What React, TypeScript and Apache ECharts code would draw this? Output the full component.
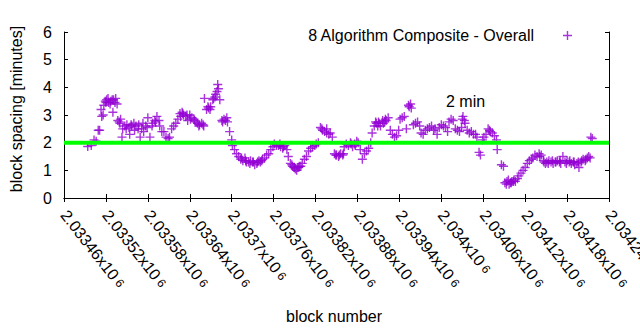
import React, { useEffect, useRef } from "react";
import * as echarts from "echarts";

// Block numbers are stored as offsets from the first x tick (2033460)
const BLOCK_BASE = 2033460;
const X_MIN = 2033460;
const X_MAX = 2034240;
const X_STEP = 60;
const Y_MIN = 0;
const Y_MAX = 6;
const TARGET_MINUTES = 2;

const blockOffsets = [
  34, 39, 43, 46, 49, 51, 53, 54, 56, 57,
  59, 61, 64, 67, 70, 71, 74, 76, 77, 79,
  80, 83, 84, 87, 90, 93, 94, 97, 100, 103,
  106, 109, 111, 114, 117, 120, 123, 126, 127, 130,
  133, 136, 137, 140, 143, 146, 149, 151, 154, 157,
  160, 163, 166, 169, 171, 174, 177, 180, 183, 186,
  189, 191, 194, 197, 200, 201, 204, 207, 210, 213,
  216, 219, 220, 221, 223, 226, 229, 231, 234, 237,
  240, 241, 244, 247, 250, 253, 256, 259, 261, 264,
  267, 270, 273, 276, 279, 281, 284, 287, 290, 293,
  296, 299, 301, 304, 307, 310, 313, 316, 319, 321,
  324, 327, 330, 333, 336, 339, 341, 344, 347, 350,
  353, 356, 359, 361, 364, 367, 370, 373, 376, 379,
  381, 384, 387, 390, 393, 396, 399, 401, 404, 407,
  410, 413, 416, 419, 421, 424, 427, 430, 433, 436,
  439, 441, 444, 447, 450, 453, 456, 459, 461, 464,
  467, 470, 473, 476, 479, 481, 484, 487, 490, 493,
  496, 497, 500, 503, 506, 509, 511, 514, 517, 520,
  523, 526, 529, 531, 534, 537, 540, 543, 546, 549,
  551, 554, 557, 560, 563, 566, 569, 571, 574, 577,
  580, 583, 586, 589, 591, 594, 596, 599, 601, 604,
  607, 610, 613, 616, 619, 620, 626, 629, 631, 634,
  637, 640, 643, 646, 649, 651, 654, 657, 660, 663,
  666, 669, 671, 674, 677, 680, 683, 686, 689, 691,
  694, 697, 700, 703, 706, 709, 711, 714, 717, 720,
  723, 726, 729, 731, 734, 737, 740, 743, 746, 749,
  751, 754, 756,
  60, 63, 66, 69, 73, 81, 89, 96, 101, 107,
  113, 119, 131, 167, 170, 176, 181, 187, 193, 199,
  206, 209, 214, 217, 227, 233, 254, 260, 266, 271,
  277, 283, 309, 314, 326, 329, 331, 334, 337, 369,
  376, 389, 394, 400, 411, 417, 446, 449, 451, 457,
  460, 494, 570, 573, 609, 633, 636, 639, 641, 644,
  681, 687, 693, 699, 704, 710, 719, 724, 730, 736,
  741, 747, 753,
];

const spacingMinutes = [
  1.86, 1.9, 2.1, 2.05, 2.45, 2.45, 3.2, 2.95, 3.0, 3.35,
  3.5, 3.55, 3.45, 3.5, 3.1, 3.55, 3.6, 3.4, 2.8, 2.75,
  2.7, 2.2, 2.5, 2.6, 2.65, 2.55, 2.3, 2.6, 2.7, 2.6,
  2.5, 2.2, 2.5, 2.4, 2.6, 2.9, 2.2, 2.6, 2.7, 2.8,
  2.95, 2.8, 2.6, 2.4, 2.4, 2.2, 2.15, 2.2, 2.5, 2.6,
  2.7, 2.85, 3.05, 3.1, 3.0, 2.95, 2.8, 3.0, 2.9, 2.85,
  2.75, 2.7, 2.65, 2.7, 2.6, 3.6, 3.2, 3.25, 3.3, 3.55,
  3.65, 3.85, 4.1, 3.95, 3.55, 2.8, 2.85, 2.8, 2.75, 2.4,
  2.1, 1.9, 1.75, 1.6, 1.5, 1.4, 1.35, 1.45, 1.3, 1.3,
  1.35, 1.3, 1.2, 1.25, 1.35, 1.3, 1.4, 1.45, 1.55, 1.6,
  1.75, 1.85, 1.95, 1.9, 1.9, 1.85, 1.8, 1.9, 1.75, 1.5,
  1.25, 1.15, 1.1, 1.0, 1.1, 1.15, 1.25, 1.4, 1.5, 1.7,
  1.8, 1.85, 1.9, 1.95, 2.0, 2.55, 2.45, 2.4, 2.5, 2.3,
  2.35, 2.2, 1.6, 1.55, 1.5, 1.6, 1.55, 1.85, 1.95, 1.9,
  2.0, 1.85, 1.95, 2.05, 2.0, 1.75, 1.4, 1.6, 1.7, 1.8,
  2.0, 2.35, 2.6, 2.7, 2.75, 2.6, 2.8, 2.75, 2.8, 2.9,
  2.45, 2.3, 2.2, 2.25, 2.45, 2.85, 2.9, 2.95, 2.5, 3.35,
  3.4, 3.25, 2.65, 2.7, 2.75, 2.6, 2.35, 2.3, 2.45, 2.5,
  2.55, 2.6, 2.45, 2.5, 2.3, 2.55, 2.65, 2.6, 2.55, 2.4,
  2.75, 2.85, 2.8, 2.5, 2.45, 2.4, 2.55, 2.95, 2.7, 2.45,
  2.35, 2.4, 2.3, 2.3, 2.2, 1.65, 1.55, 2.1, 2.2, 2.3,
  2.5, 2.4, 2.35, 2.25, 2.1, 1.75, 1.2, 1.15, 0.55, 0.6,
  0.5, 0.55, 0.6, 0.6, 0.7, 0.8, 0.9, 1.0, 1.1, 1.25,
  1.35, 1.4, 1.45, 1.55, 1.5, 1.6, 1.55, 1.35, 1.25, 1.3,
  1.35, 1.3, 1.25, 1.3, 1.35, 1.3, 1.25, 1.5, 1.3, 1.35,
  1.3, 1.25, 1.3, 1.2, 1.25, 1.1, 1.3, 1.4, 1.35, 1.45,
  1.5, 2.2, 2.15,
  3.45, 3.6, 3.4, 3.55, 3.45, 2.85, 2.5, 2.65, 2.45, 2.65,
  2.7, 2.55, 2.75, 2.95, 3.05, 3.0, 2.85, 2.8, 2.6, 2.65,
  3.3, 3.2, 3.6, 3.75, 2.75, 2.9, 1.45, 1.35, 1.25, 1.3,
  1.3, 1.35, 1.95, 1.85, 1.2, 1.1, 1.05, 1.1, 1.15, 2.5,
  2.35, 1.55, 1.55, 1.6, 1.95, 1.9, 2.75, 2.6, 2.7, 2.7,
  2.85, 3.3, 2.85, 2.8, 2.45, 0.5, 0.65, 0.55, 0.6, 0.65,
  1.5, 1.3, 1.25, 1.35, 1.3, 1.35, 1.25, 1.35, 1.3, 1.3,
  1.35, 1.4, 1.45,
];

const SERIES_NAME = "8 Algorithm Composite - Overall";
const Y_TITLE = "block spacing [minutes]";
const X_TITLE = "block number";
const LINE_LABEL = "2 min";

const PURPLE = "#9400d3";
const GREEN = "#00ff00";
const FONT = "'Liberation Sans', Arial, Helvetica, sans-serif";
const PLUS = "path://M3.8,0H5.2V3.8H9V5.2H5.2V9H3.8V5.2H0V3.8H3.8Z";

export default function App() {
  const ref = useRef<HTMLDivElement>(null);

  useEffect(() => {
    document.body.style.margin = "0";
    const el = ref.current;
    if (!el) return;
    const chart = echarts.init(el, null, { renderer: "svg" });

    const points = blockOffsets.map((o, i) => [BLOCK_BASE + o, spacingMinutes[i]]);

    const xLabelFmt = (v: number) => {
      const s = String(parseFloat((v / 1e6).toFixed(6)));
      return `{m|${s}x10}{e| 6}`;
    };

    const axisLineStyle = { show: true, lineStyle: { color: "#000", width: 1 } };
    const tickStyle = { show: true, inside: true, length: 4, lineStyle: { color: "#000", width: 1 } };

    chart.setOption({
      animation: false,
      textStyle: { fontFamily: FONT },
      grid: {
        left: 64,
        right: 31,
        top: 32,
        bottom: 132,
        outerBoundsMode: "none",
        containLabel: false,
      },
      legend: {
        data: [{ name: SERIES_NAME, icon: PLUS }],
        align: "right",
        right: 68,
        top: 27.5,
        padding: 0,
        itemWidth: 9,
        itemHeight: 9,
        selectedMode: false,
        textStyle: {
          fontSize: 16,
          color: "#000",
          fontFamily: FONT,
          padding: [0, 24, 0, 0],
        },
      },
      xAxis: [
        {
          type: "value",
          position: "bottom",
          min: X_MIN,
          max: X_MAX,
          interval: X_STEP,
          axisLine: axisLineStyle,
          axisTick: tickStyle,
          splitLine: { show: false },
          axisLabel: {
            rotate: -52,
            margin: 14,
            color: "#000",
            fontSize: 16,
            fontFamily: FONT,
            showMinLabel: true,
            showMaxLabel: true,
            formatter: xLabelFmt,
            rich: {
              m: { fontSize: 16, fontFamily: FONT, color: "#000" },
              e: { fontSize: 12, fontFamily: FONT, color: "#000" },
            },
          },
        },
        {
          type: "value",
          position: "top",
          min: X_MIN,
          max: X_MAX,
          interval: X_STEP,
          axisLine: axisLineStyle,
          axisTick: tickStyle,
          axisLabel: { show: false },
          splitLine: { show: false },
        },
      ],
      yAxis: [
        {
          type: "value",
          position: "left",
          min: Y_MIN,
          max: Y_MAX,
          interval: 1,
          axisLine: axisLineStyle,
          axisTick: tickStyle,
          splitLine: { show: false },
          axisLabel: { color: "#000", fontSize: 16, margin: 12, fontFamily: FONT },
        },
        {
          type: "value",
          position: "right",
          min: Y_MIN,
          max: Y_MAX,
          interval: 1,
          axisLine: axisLineStyle,
          axisTick: tickStyle,
          axisLabel: { show: false },
          splitLine: { show: false },
        },
      ],
      series: [
        {
          name: SERIES_NAME,
          type: "scatter",
          xAxisIndex: 0,
          yAxisIndex: 0,
          symbol: PLUS,
          symbolSize: 9,
          itemStyle: { color: PURPLE },
          data: points,
          z: 2,
        },
        {
          name: LINE_LABEL,
          type: "line",
          xAxisIndex: 0,
          yAxisIndex: 0,
          symbol: "none",
          lineStyle: { color: GREEN, width: 4 },
          data: [
            [X_MIN, TARGET_MINUTES],
            [X_MAX, TARGET_MINUTES],
          ],
          z: 3,
        },
      ],
      graphic: [
        {
          type: "text",
          x: 446,
          y: 101,
          style: {
            text: LINE_LABEL,
            fill: "#000",
            fontSize: 16,
            fontFamily: FONT,
            align: "left",
            verticalAlign: "middle",
          },
        },
        {
          type: "text",
          x: 16,
          y: 109,
          rotation: Math.PI / 2,
          style: {
            text: Y_TITLE,
            fill: "#000",
            fontSize: 16,
            fontFamily: FONT,
            align: "center",
            verticalAlign: "middle",
          },
        },
        {
          type: "text",
          x: 334,
          y: 316,
          style: {
            text: X_TITLE,
            fill: "#000",
            fontSize: 16,
            fontFamily: FONT,
            align: "center",
            verticalAlign: "middle",
          },
        },
      ],
    });

    return () => chart.dispose();
  }, []);

  return <div ref={ref} style={{ width: 640, height: 330 }} />;
}
